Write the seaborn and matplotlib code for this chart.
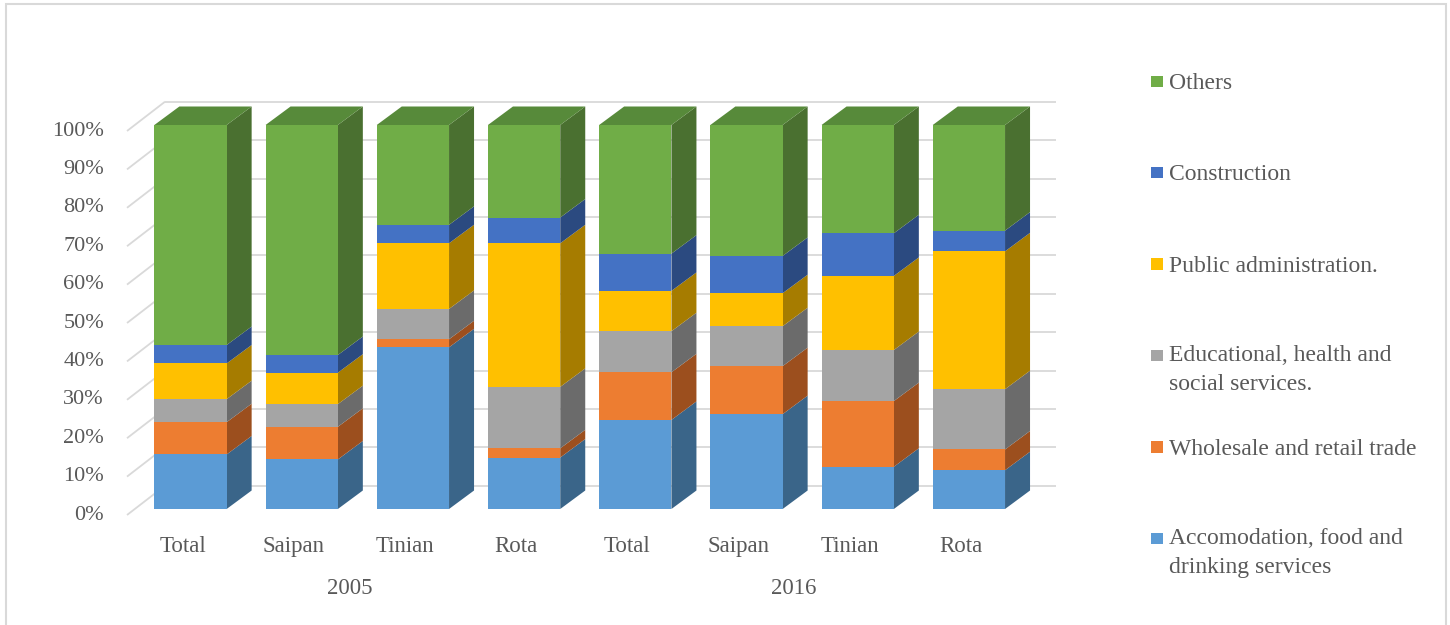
import numpy as np
import pandas as pd
import matplotlib
matplotlib.use("Agg")
import matplotlib.pyplot as plt
import seaborn as sns
from matplotlib.patches import Polygon, Rectangle

# ---------------- data ----------------
places = ["Total", "Saipan", "Tinian", "Rota", "Total", "Saipan", "Tinian", "Rota"]
years = ["2005", "2016"]
sectors = ["Accomodation, food and\ndrinking services",
           "Wholesale and retail trade",
           "Educational, health and\nsocial services.",
           "Public administration.",
           "Construction",
           "Others"]
accom = [14.2, 12.9, 42.1, 13.4, 23.2, 24.7, 11.0, 10.1]
wholesale = [8.4, 8.5, 2.1, 2.4, 12.4, 12.5, 17.1, 5.4]
edu = [6.0, 5.9, 7.9, 16.0, 10.7, 10.4, 13.3, 15.7]
public = [9.3, 8.2, 17.1, 37.4, 10.5, 8.6, 19.3, 35.9]
constr = [4.8, 4.6, 4.8, 6.7, 9.7, 9.7, 11.1, 5.4]
others = [57.3, 59.9, 26.0, 24.1, 33.5, 34.1, 28.2, 27.5]
yticks = [0, 10, 20, 30, 40, 50, 60, 70, 80, 90, 100]

series = np.array([accom, wholesale, edu, public, constr, others])
cum = np.cumsum(series, axis=0)
ids = [f"{p} {years[i // 4]}" for i, p in enumerate(places)]

front_cols = ["#5B9BD5", "#ED7D31", "#A5A5A5", "#FFC000", "#4472C4", "#70AD47"]
side_cols = ["#3A6589", "#9C4F1E", "#6B6B6B", "#A67C00", "#2B4A80", "#4A7030"]
top_col = "#578A3A"
txt_col = "#595959"
grid_col = "#D9D9D9"

sns.set_theme(style="white")
plt.rcParams["font.family"] = ["Liberation Serif", "DejaVu Serif"]
FS_TICK = 16
FS_CAT = 16.5
FS_LEG = 17

W, H = 1450, 625
fig = plt.figure(figsize=(W / 100, H / 100), dpi=100)

# pixel <-> data mapping (bar i centred at X0 + XS*i, 0% at Y0)
X0, XS = 190.5, 111.2
Y0, YS = 509.0, 3.84
def px2x(p):
    return (p - X0) / XS
def py2y(p):
    return (Y0 - p) / YS

L, R, T, B = 30, 1080, 90, 620
ax = fig.add_axes([L / W, 1 - B / H, (R - L) / W, (B - T) / H])

BW = 0.65
DX = 25 / XS
DY = 18.5 / YS

# front faces via seaborn (layers drawn from the top cumulative down)
for k in reversed(range(len(series))):
    df = pd.DataFrame({"bar": ids, "value": cum[k]})
    sns.barplot(data=df, x="bar", y="value", order=ids, color=front_cols[k],
                saturation=1, width=BW, errorbar=None, linewidth=0, ax=ax, zorder=3)

# 3D side and top faces
for i in range(len(ids)):
    xr = i + BW / 2
    for k in range(len(series)):
        y1 = cum[k][i]
        y0 = y1 - series[k][i]
        ax.add_patch(Polygon([(xr, y0), (xr + DX, y0 + DY), (xr + DX, y1 + DY), (xr, y1)],
                             closed=True, facecolor=side_cols[k], edgecolor="none", zorder=2))
    ytop = cum[-1][i]
    xl = i - BW / 2
    ax.add_patch(Polygon([(xl, ytop), (xl + DX, ytop + DY), (xr + DX, ytop + DY), (xr, ytop)],
                         closed=True, facecolor=top_col, edgecolor="none", zorder=2))

# walls / gridlines
wall_fx, wall_fy = px2x(127), -6 / YS
wall_bx, wall_by = px2x(165), 23.3 / YS
grid_end = px2x(1056)
for v in yticks:
    ax.plot([wall_fx, wall_bx], [v + wall_fy, v + wall_by], color=grid_col, lw=1.3,
            zorder=1, solid_capstyle="butt")
    ax.plot([wall_bx, grid_end], [v + wall_by, v + wall_by], color=grid_col, lw=1.3,
            zorder=1, solid_capstyle="butt")
    ax.text(px2x(104), v + wall_fy, f"{v}%", ha="right", va="center",
            fontsize=FS_TICK, color=txt_col)

# category and year labels
for i, p in enumerate(places):
    ax.text(i - 8 / XS, py2y(552), p, ha="center", va="baseline", fontsize=FS_CAT, color=txt_col)
for g, yr in enumerate(years):
    ax.text(g * 4 + 1.5 - 8 / XS, py2y(594), yr, ha="center", va="baseline",
            fontsize=FS_CAT, color=txt_col)

ax.set_xlim(px2x(L), px2x(R))
ax.set_ylim(py2y(B), py2y(T))
ax.axis("off")

# legend (top to bottom: Others ... Accomodation)
LINE_PX = 26.5
for j, k in enumerate(reversed(range(len(sectors)))):
    cy = 81.5 + 91.4 * j
    fig.add_artist(Rectangle((1151 / W, 1 - (cy + 5.5) / H), 11.5 / W, 11.5 / H,
                             transform=fig.transFigure, facecolor=front_cols[k], edgecolor="none"))
    nlines = sectors[k].count("\n") + 1
    base_last = cy + 7.5 + LINE_PX * (nlines - 1)
    fig.text(1169 / W, 1 - base_last / H, sectors[k], ha="left", va="baseline",
             fontsize=FS_LEG, color=txt_col, linespacing=1.47)

# chart border
fig.add_artist(Rectangle((6 / W, -0.02), 1440 / W, 1 - 4 / H + 0.02, transform=fig.transFigure,
                         fill=False, edgecolor=grid_col, lw=1.5))

fig.savefig("out.png", dpi=100)
